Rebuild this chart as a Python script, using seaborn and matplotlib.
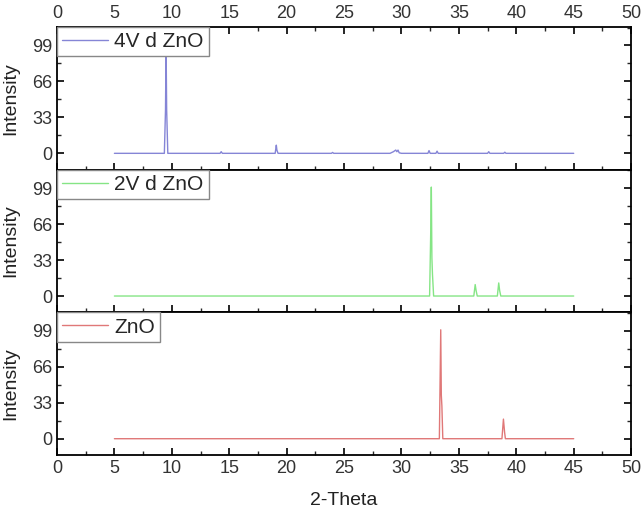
import numpy as np
import pandas as pd
import matplotlib
matplotlib.use("Agg")
import matplotlib.pyplot as plt
from matplotlib.ticker import MultipleLocator
import seaborn as sns

# ---- data ----
x_4v = [5, 9.35, 9.45, 9.5, 9.55, 9.65, 14.2, 14.3, 14.4, 19.0, 19.1, 19.15, 19.25,
        23.9, 24.0, 24.1, 29.0, 29.3, 29.5, 29.6, 29.7, 29.8, 30.0, 32.3, 32.4, 32.5,
        33.0, 33.1, 33.2, 37.5, 37.6, 37.7, 38.9, 39.0, 39.1, 45]
y_4v = [0, 0, 40, 100, 40, 0, 0, 1.5, 0, 0, 7.5, 3, 0,
        0, 0.8, 0, 0, 1.5, 3, 1.5, 3, 0.5, 0, 0, 2.5, 0,
        0, 2, 0, 0, 1.5, 0, 0, 1, 0, 0]

x_2v = [5, 32.45, 32.55, 32.6, 32.65, 32.7, 32.8, 36.3, 36.42, 36.5, 36.6,
        38.35, 38.47, 38.55, 38.65, 45]
y_2v = [0, 0, 60, 100, 35, 20, 0, 0, 10.5, 5, 0,
        0, 12, 5, 0, 0]

x_zno = [5, 33.3, 33.42, 33.47, 33.52, 33.6, 38.75, 38.88, 38.98, 39.05, 45]
y_zno = [0, 0, 100, 40, 30, 0, 0, 18, 6, 0, 0]

labels = ["4V d ZnO", "2V d ZnO", "ZnO"]
colors = ["#8585d6", "#85e585", "#e07878"]
yticks = [0, 33, 66, 99]
xticks = list(range(0, 51, 5))

series = [(x_4v, y_4v), (x_2v, y_2v), (x_zno, y_zno)]

sns.set_theme(style="ticks")
plt.rcParams['font.family'] = ['Liberation Sans', 'DejaVu Sans']
plt.rcParams['axes.linewidth'] = 1.3

fig, axes = plt.subplots(3, 1, figsize=(6.44, 5.09), dpi=100, sharex=True)
fig.subplots_adjust(left=0.0885, right=0.98, top=0.947, bottom=0.106, hspace=0)

for i, (ax, (xs, ys), lab, col) in enumerate(zip(axes, series, labels, colors)):
    df = pd.DataFrame({"x": xs, "y": ys})
    sns.lineplot(data=df, x="x", y="y", ax=ax, color=col, linewidth=1.0, label=lab,
                 estimator=None, sort=False)
    ax.set_xlim(0, 50)
    ax.set_ylim(-15, 116)
    ax.set_yticks(yticks)
    ax.set_xticks(xticks)
    ax.xaxis.set_minor_locator(MultipleLocator(2.5))
    ax.yaxis.set_minor_locator(MultipleLocator(16.5))
    for s in ax.spines.values():
        s.set_visible(True)
        s.set_color("black")
        s.set_linewidth(1.3)
    ax.tick_params(axis="both", which="major", direction="in", length=5, width=1.2,
                   labelsize=13, colors="black", right=True, left=True, bottom=True)
    ax.tick_params(axis="both", which="minor", direction="in", length=3, width=1.0,
                   right=True, left=True, bottom=True)
    ax.set_ylabel("Intensity", fontsize=14, color="#222222")
    ax.yaxis.set_label_coords(-0.066, 0.5)
    ax.set_xlabel("")
    if i == 0:
        ax.tick_params(axis="x", which="both", top=True, labeltop=True, labelbottom=False)
    else:
        ax.tick_params(axis="x", which="both", top=False, labeltop=False)
    if i == 2:
        ax.tick_params(axis="x", which="both", labelbottom=True)
    leg = ax.legend(loc="upper left", borderaxespad=0, fancybox=False, framealpha=1,
                    edgecolor="#888888", fontsize=15, handlelength=2.2,
                    handletextpad=0.3, borderpad=0.25)
    leg.get_frame().set_linewidth(1.0)
    for t in ax.get_xticklabels() + ax.get_yticklabels():
        t.set_color("#333333")

axes[2].set_xlabel("2-Theta", fontsize=14, color="#222222", labelpad=11)

fig.savefig("out.png", dpi=100)
